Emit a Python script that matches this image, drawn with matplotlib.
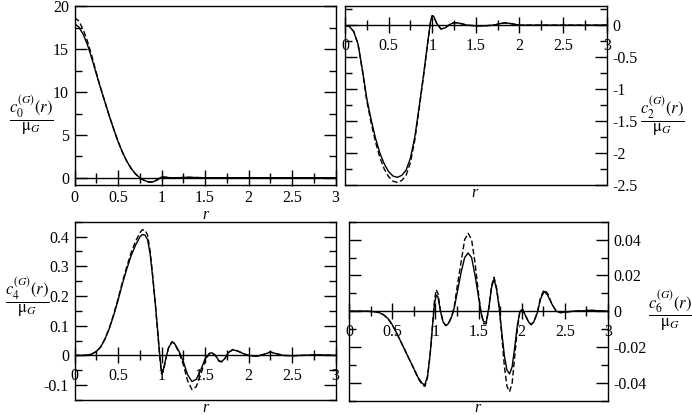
import matplotlib
matplotlib.use('Agg')
import matplotlib.pyplot as plt
from matplotlib.ticker import MultipleLocator, FormatStrFormatter

plt.rcParams['font.family'] = 'Liberation Serif'
plt.rcParams['mathtext.fontset'] = 'stix'
plt.rcParams['axes.unicode_minus'] = False

# c0 panel
r0 = [0, 0.05, 0.1, 0.15, 0.2, 0.25, 0.3, 0.35, 0.4, 0.45, 0.5, 0.55, 0.6, 0.65,
      0.7, 0.75, 0.8, 0.85, 0.9, 0.95, 1.0, 1.05, 1.1, 1.2, 1.3, 1.4, 1.5, 2.0, 2.5, 3.0]
c0_solid = [18.0, 17.6, 16.75, 15.5, 13.9, 12.15, 10.45, 8.85, 7.2, 5.7, 4.25, 3.0, 1.95, 1.1,
            0.45, 0.0, -0.3, -0.5, -0.5, -0.25, 0.08, 0.05, 0.0, 0.0, 0.05, 0.02, 0.0, 0.0, 0.0, 0.0]
c0_dash = [18.7, 18.3, 17.3, 15.9, 14.2, 12.3, 10.5, 8.85, 7.2, 5.7, 4.25, 3.0, 1.95, 1.1,
           0.45, 0.0, -0.3, -0.5, -0.5, -0.25, 0.08, 0.05, 0.0, 0.0, 0.05, 0.02, 0.0, 0.0, 0.0, 0.0]

# c2 panel
r2 = [0, 0.05, 0.1, 0.15, 0.2, 0.25, 0.3, 0.35, 0.4, 0.45, 0.5, 0.55, 0.6, 0.65, 0.7,
      0.75, 0.8, 0.85, 0.9, 0.95, 0.98, 1.0, 1.02, 1.05, 1.1, 1.15, 1.2, 1.25, 1.3,
      1.4, 1.5, 1.6, 1.7, 1.8, 1.85, 1.9, 2.0, 2.2, 3.0]
c2_solid = [0, -0.02, -0.1, -0.3, -0.7, -1.15, -1.48, -1.77, -2.0, -2.17, -2.29, -2.36, -2.38,
            -2.35, -2.27, -2.08, -1.75, -1.28, -0.78, -0.25, 0.05, 0.15, 0.13, 0.03, -0.06,
            -0.04, 0.01, 0.04, 0.035, 0.0, -0.01, -0.01, 0.0, 0.03, 0.035, 0.025, 0.0, 0.0, 0.0]
c2_dash = [0, -0.02, -0.1, -0.3, -0.72, -1.19, -1.53, -1.83, -2.07, -2.25, -2.37, -2.44, -2.46,
           -2.43, -2.35, -2.15, -1.8, -1.31, -0.8, -0.26, 0.05, 0.15, 0.13, 0.03, -0.06,
           -0.04, 0.01, 0.04, 0.035, 0.0, -0.01, -0.01, 0.0, 0.03, 0.035, 0.025, 0.0, 0.0, 0.0]

# c4 panel
r4 = [0, 0.1, 0.15, 0.2, 0.25, 0.3, 0.35, 0.4, 0.45, 0.5, 0.55, 0.6, 0.65, 0.7, 0.75, 0.78,
      0.81, 0.84, 0.87, 0.9, 0.93, 0.96, 0.98, 1.0, 1.02, 1.05, 1.08, 1.12, 1.15, 1.2, 1.25,
      1.3, 1.35, 1.4, 1.45, 1.5, 1.55, 1.58, 1.62, 1.66, 1.69, 1.73, 1.77, 1.82, 1.87, 1.95,
      2.0, 2.1, 2.18, 2.25, 2.32, 2.4, 2.5, 2.7, 2.8, 3.0]
c4_solid = [0, 0.0, 0.001, 0.005, 0.013, 0.028, 0.055, 0.09, 0.135, 0.185, 0.24, 0.29, 0.335,
            0.37, 0.398, 0.407, 0.405, 0.39, 0.34, 0.26, 0.17, 0.07, 0.0, -0.055, -0.05, -0.01,
            0.025, 0.045, 0.04, 0.015, -0.02, -0.065, -0.088, -0.08, -0.05, -0.012, 0.007,
            0.009, 0.0, -0.018, -0.021, -0.01, 0.01, 0.019, 0.015, 0.005, 0.0, -0.003, 0.004,
            0.011, 0.006, 0.0, -0.001, 0.001, 0.002, 0.0]
c4_dash = [0, 0.0, 0.001, 0.005, 0.013, 0.028, 0.056, 0.092, 0.138, 0.19, 0.246, 0.298, 0.345,
           0.383, 0.412, 0.423, 0.422, 0.405, 0.35, 0.265, 0.17, 0.065, -0.005, -0.062, -0.055,
           -0.012, 0.025, 0.046, 0.04, 0.01, -0.03, -0.085, -0.115, -0.105, -0.065, -0.018,
           0.006, 0.009, 0.0, -0.019, -0.022, -0.01, 0.01, 0.02, 0.016, 0.005, 0.0, -0.003,
           0.004, 0.012, 0.006, 0.0, -0.001, 0.001, 0.002, 0.0]

# c6 panel
r6 = [0, 0.2, 0.3, 0.35, 0.4, 0.45, 0.5, 0.55, 0.6, 0.65, 0.7, 0.75, 0.8, 0.85, 0.88, 0.91,
      0.94, 0.97, 0.99, 1.01, 1.03, 1.06, 1.09, 1.12, 1.15, 1.19, 1.22, 1.26, 1.3, 1.34, 1.38,
      1.42, 1.46, 1.5, 1.53, 1.56, 1.59, 1.62, 1.65, 1.68, 1.71, 1.74, 1.77, 1.8, 1.83, 1.86,
      1.89, 1.92, 1.95, 1.98, 2.01, 2.04, 2.08, 2.11, 2.14, 2.18, 2.22, 2.26, 2.3, 2.35, 2.4,
      2.45, 2.5, 2.6, 2.7, 2.8, 2.9, 3.0]
c6_solid = [0, 0, -0.0003, -0.0008, -0.002, -0.004, -0.0075, -0.012, -0.017, -0.022, -0.027,
            -0.032, -0.037, -0.0405, -0.041, -0.036, -0.024, -0.007, 0.004, 0.009, 0.008, 0.0,
            -0.006, -0.008, -0.007, -0.003, 0.002, 0.012, 0.022, 0.03, 0.0325, 0.03, 0.02,
            0.008, -0.001, -0.006, -0.006, 0.002, 0.013, 0.018, 0.012, 0.002, -0.012, -0.025,
            -0.033, -0.035, -0.031, -0.02, -0.008, 0.0, 0.001, -0.002, -0.006, -0.0075, -0.006,
            -0.001, 0.007, 0.011, 0.009, 0.004, 0.0, -0.0008, -0.0005, 0.0, 0.0002, 0.0005,
            0.0002, 0.0]
c6_dash = [0, 0, -0.0003, -0.0008, -0.002, -0.004, -0.0075, -0.012, -0.017, -0.022, -0.027,
           -0.032, -0.0375, -0.0412, -0.042, -0.037, -0.024, -0.006, 0.006, 0.012, 0.01, 0.0,
           -0.006, -0.008, -0.007, -0.003, 0.003, 0.016, 0.028, 0.04, 0.0435, 0.04, 0.027,
           0.01, -0.001, -0.007, -0.007, 0.002, 0.014, 0.019, 0.013, 0.002, -0.014, -0.031,
           -0.042, -0.045, -0.04, -0.025, -0.01, 0.0, 0.001, -0.002, -0.006, -0.0075, -0.006,
           -0.001, 0.008, 0.012, 0.01, 0.004, 0.0, -0.0008, -0.0005, 0.0, 0.0002, 0.0005,
           0.0002, 0.0]

W, H = 692, 415
fig = plt.figure(figsize=(W / 100, H / 100), dpi=100)


def box(x0, y0, x1, y1):
    # pixel box (left, top, right, bottom) -> figure fraction
    return [x0 / W, 1 - y1 / H, (x1 - x0) / W, (y1 - y0) / H]


def setup(ax, ylim, ymaj, ymin, yfmt, right):
    ax.set_xlim(0, 3)
    ax.set_ylim(*ylim)
    ax.spines['bottom'].set_position(('data', 0))
    ax.plot([0, 1], [0, 0], transform=ax.transAxes, color='k', lw=1, clip_on=False)
    for s in ax.spines.values():
        s.set_linewidth(1)
    ax.xaxis.set_major_locator(MultipleLocator(0.5))
    ax.xaxis.set_minor_locator(MultipleLocator(0.25))
    ax.xaxis.set_major_formatter(FormatStrFormatter('%g'))
    ax.yaxis.set_major_locator(MultipleLocator(ymaj))
    ax.yaxis.set_minor_locator(MultipleLocator(ymin))
    ax.yaxis.set_major_formatter(FormatStrFormatter(yfmt))
    ax.tick_params(axis='x', which='major', direction='inout', length=12, width=1,
                   labelsize=11.5, pad=3, top=False)
    ax.tick_params(axis='x', which='minor', direction='inout', length=7, width=1, top=False)
    ax.tick_params(axis='y', which='major', direction='in', length=8.6, width=1,
                   labelsize=11.5, pad=4, left=True, right=True,
                   labelleft=not right, labelright=right)
    ax.tick_params(axis='y', which='minor', direction='in', length=5, width=1,
                   left=True, right=True)


def curves(ax, r, solid, dash):
    ax.plot(r, solid, color='k', lw=1)
    ax.plot(r, dash, color='k', lw=1, ls=(0, (4, 2)))


ax1 = fig.add_axes(box(74.5, 6.5, 335.5, 185))
setup(ax1, (-0.85, 20), 5, 2.5, '%g', False)
curves(ax1, r0, c0_solid, c0_dash)

ax2 = fig.add_axes(box(345, 6, 606.7, 185))
setup(ax2, (-2.5, 0.3), 0.5, 0.25, '%g', True)
curves(ax2, r2, c2_solid, c2_dash)

ax3 = fig.add_axes(box(74.5, 221.7, 335.5, 400))
setup(ax3, (-0.15, 0.45), 0.1, 0.05, '%g', False)
curves(ax3, r4, c4_solid, c4_dash)

ax4 = fig.add_axes(box(349, 221.7, 608, 400.7))
setup(ax4, (-0.05, 0.05), 0.02, 0.01, '%g', True)
curves(ax4, r6, c6_solid, c6_dash)

# y labels as fractions
labels = [(31, 115, '0'), (662, 116, '2'), (27, 297, '4'), (670, 311, '6')]
for x, y, n in labels:
    fig.text(x / W, 1 - y / H,
             r'$\dfrac{c_%s^{(G)}(r)}{\mathrm{μ}_G}$' % n,
             ha='center', va='center', fontsize=12)

# x labels
for x, y in [(205, 215), (474, 193), (205, 408), (477, 408)]:
    fig.text(x / W, 1 - y / H, 'r', style='italic', ha='center', va='center', fontsize=11.5)

plt.savefig('out.png', dpi=100)
